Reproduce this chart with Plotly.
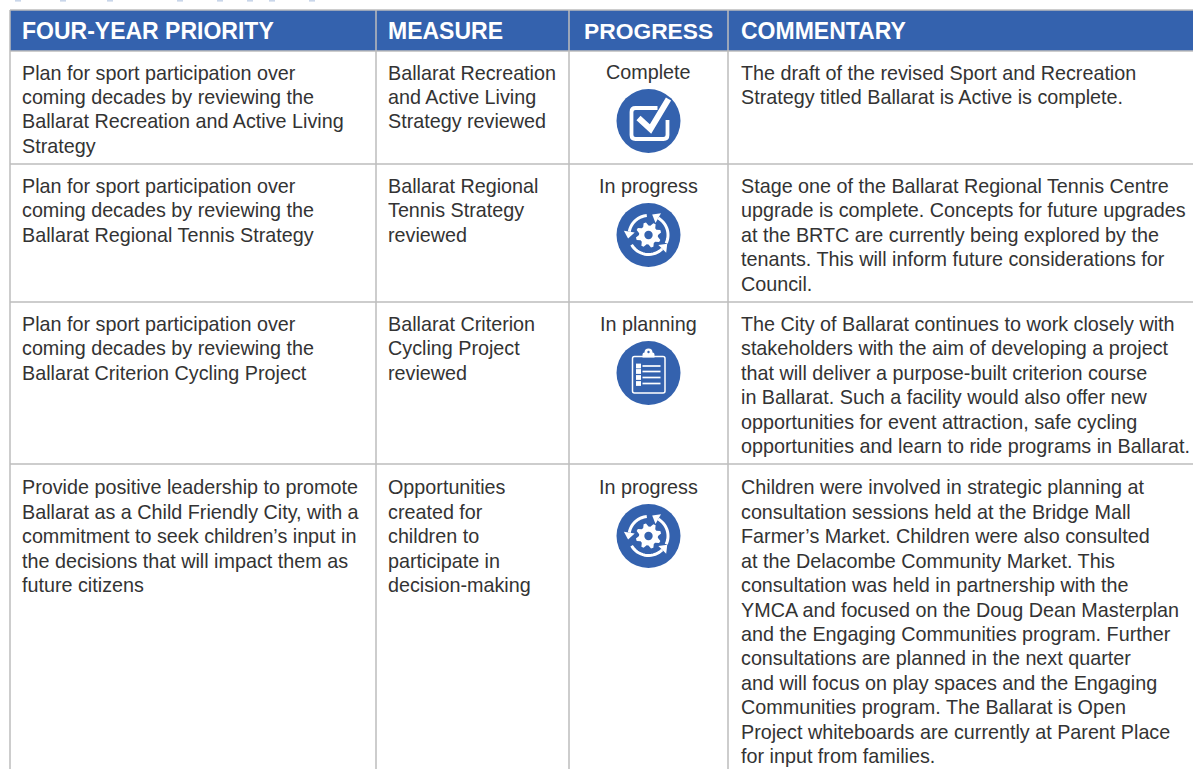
import numpy as np
import plotly.graph_objects as go

# ---------- table content ----------
HEADERS = ["FOUR-YEAR PRIORITY", "MEASURE", "PROGRESS", "COMMENTARY"]
PRIORITY = [
    ["Plan for sport participation over", "coming decades by reviewing the", "Ballarat Recreation and Active Living", "Strategy"],
    ["Plan for sport participation over", "coming decades by reviewing the", "Ballarat Regional Tennis Strategy"],
    ["Plan for sport participation over", "coming decades by reviewing the", "Ballarat Criterion Cycling Project"],
    ["Provide positive leadership to promote", "Ballarat as a Child Friendly City, with a", "commitment to seek children\u2019s input in", "the decisions that will impact them as", "future citizens"],
]
MEASURE = [
    ["Ballarat Recreation", "and Active Living", "Strategy reviewed"],
    ["Ballarat Regional", "Tennis Strategy", "reviewed"],
    ["Ballarat Criterion", "Cycling Project", "reviewed"],
    ["Opportunities", "created for", "children to", "participate in", "decision-making"],
]
PROGRESS = ["Complete", "In progress", "In planning", "In progress"]
COMMENTARY = [
    ["The draft of the revised Sport and Recreation", "Strategy titled Ballarat is Active is complete."],
    ["Stage one of the Ballarat Regional Tennis Centre", "upgrade is complete. Concepts for future upgrades", "at the BRTC are currently being explored by the", "tenants. This will inform future considerations for", "Council."],
    ["The City of Ballarat continues to work closely with", "stakeholders with the aim of developing a project", "that will deliver a purpose-built criterion course", "in Ballarat. Such a facility would also offer new", "opportunities for event attraction, safe cycling", "opportunities and learn to ride programs in Ballarat."],
    ["Children were involved in strategic planning at", "consultation sessions held at the Bridge Mall", "Farmer\u2019s Market. Children were also consulted", "at the Delacombe Community Market. This", "consultation was held in partnership with the", "YMCA and focused on the Doug Dean Masterplan", "and the Engaging Communities program. Further", "consultations are planned in the next quarter", "and will focus on play spaces and the Engaging", "Communities program. The Ballarat is Open", "Project whiteboards are currently at Parent Place", "for input from families."],
]

# ---------- layout of the page (pixel space of the axes) ----------
W, H = 1193, 769
COL_EDGES = [10, 376, 569, 728, 1193]
ROW_EDGES = [10, 51, 164, 302, 464, 775]
TEXT_X = [22, 388, None, 741]
LINE_H = 24.45
FIRST_LINE = [72.5, 186, 324, 487.3]
ICON_Y = [121, 235, 373, 536]
ICON_R = 32
BLUE = "#3462ae"
GRID = "#bdbdbd"
INK = "#333333"
FONT = "Liberation Sans"
FS = 19.75
HEAD_FS = 23
CLIPPED_HEADING_X = [18, 63, 110, 180, 220, 250, 272, 312]

shapes, ann = [], []


def add_line(x0, y0, x1, y1, color=GRID, width=1.5):
    shapes.append(dict(type="line", x0=x0, y0=y0, x1=x1, y1=y1, line=dict(color=color, width=width), layer="below"))


def text(x, y, s, anchor="left", size=FS, color=INK, bold=False):
    ann.append(dict(x=x, y=y, text=f"<b>{s}</b>" if bold else s, showarrow=False, xanchor=anchor, yanchor="middle",
                    font=dict(family=FONT, size=size, color=color), xref="x", yref="y", borderpad=0, borderwidth=0))


def path(d, fill=None, stroke=None, width=0):
    s = dict(type="path", path=d, layer="above", line=dict(width=width, color=stroke or "rgba(0,0,0,0)"))
    if fill:
        s["fillcolor"] = fill
    shapes.append(s)


def poly(xs, ys, close=True):
    d = "M" + " L".join(f"{x:.2f},{y:.2f}" for x, y in zip(xs, ys))
    return d + (" Z" if close else "")


def circle(cx, cy, r, fill=None, stroke=None, width=0):
    shapes.append(dict(type="circle", x0=cx - r, x1=cx + r, y0=cy - r, y1=cy + r, fillcolor=fill or "rgba(0,0,0,0)",
                       line=dict(width=width, color=stroke or "rgba(0,0,0,0)"), layer="above"))


def icon_complete(cx, cy):
    circle(cx, cy, ICON_R, BLUE)
    path(f"M{cx+9},{cy-13} L{cx-13},{cy-13} Q{cx-17},{cy-13} {cx-17},{cy-9} L{cx-17},{cy+14} Q{cx-17},{cy+18} {cx-13},{cy+18} "
         f"L{cx+15},{cy+18} Q{cx+19},{cy+18} {cx+19},{cy+14} L{cx+19},{cy-1}", stroke="white", width=3.8)
    path(f"M{cx-10},{cy-3} L{cx+2},{cy+8} L{cx+20},{cy-22}", stroke="white", width=6)


def icon_progress(cx, cy):
    circle(cx, cy, ICON_R, BLUE)
    n = 8
    ang = np.linspace(0, 2 * np.pi, n * 4, endpoint=False) + np.pi / 8
    rad = np.array([12.8, 12.8, 9.5, 9.5] * n)
    path(poly(cx + rad * np.cos(ang), cy + rad * np.sin(ang)), fill="white")
    circle(cx, cy, 4.2, BLUE)
    for a0, a1 in [(-95, -170), (25, -60), (150, 45)]:
        t = np.radians(np.linspace(a0, a1, 18))
        path(poly(cx + 19.5 * np.cos(t), cy + 19.5 * np.sin(t), close=False), stroke="white", width=3)
        e = np.radians(a1)
        tx, ty = np.sin(e), -np.cos(e)
        nx, ny = np.cos(e), np.sin(e)
        px, py = cx + 19.5 * nx, cy + 19.5 * ny
        path(poly([px + nx * 5.5, px - nx * 5.5, px + tx * 7], [py + ny * 5.5, py - ny * 5.5, py + ty * 7]), fill="white")


def icon_plan(cx, cy):
    circle(cx, cy, ICON_R, BLUE)
    x0, x1, y0, y1 = cx - 16, cx + 16.5, cy - 16.5, cy + 20
    path(f"M{x0+2},{y0} L{x1-2},{y0} Q{x1},{y0} {x1},{y0+2} L{x1},{y1-2} Q{x1},{y1} {x1-2},{y1} L{x0+2},{y1} Q{x0},{y1} {x0},{y1-2} L{x0},{y0+2} Q{x0},{y0} {x0+2},{y0} Z",
         stroke="white", width=1.5)
    path(f"M{cx-6},{y0+1} L{cx-6},{y0-2} Q{cx-6},{y0-4} {cx-4},{y0-4} Q{cx-4},{y0-8} {cx},{y0-8} Q{cx+4},{y0-8} {cx+4},{y0-4} Q{cx+6},{y0-4} {cx+6},{y0-2} L{cx+6},{y0+1} Z", fill="white")
    circle(cx, y0 - 4.5, 1.2, BLUE)
    for dy in (-7, -1.5, 4.5, 10.5):
        path(poly([cx - 12.5, cx - 7.5, cx - 7.5, cx - 12.5], [cy + dy - 2.4, cy + dy - 2.4, cy + dy + 2.4, cy + dy + 2.4]), fill="white")
        path(f"M{cx-6},{cy+dy} L{cx+12},{cy+dy}", stroke="white", width=1.7)


ICONS = {"Complete": icon_complete, "In progress": icon_progress, "In planning": icon_plan}

# bottoms of the page heading that is cut off by the top of the picture
for x in CLIPPED_HEADING_X:
    shapes.append(dict(type="rect", x0=x - 3, x1=x + 3, y0=-1, y1=1.6, fillcolor="#c9d6ea", line=dict(width=0), layer="below"))

# header band
shapes.append(dict(type="rect", x0=COL_EDGES[0], x1=W + 2, y0=ROW_EDGES[0], y1=ROW_EDGES[1], fillcolor=BLUE, line=dict(width=0), layer="below"))

# grid
for x in COL_EDGES[:-1]:
    add_line(x, ROW_EDGES[0], x, H + 2)
for y in ROW_EDGES[:-1]:
    add_line(COL_EDGES[0], y, W + 2, y)

# headers
for i, h in enumerate(HEADERS):
    if i == 2:
        text((COL_EDGES[2] + COL_EDGES[3]) / 2, 30.5, h, "center", HEAD_FS - 0.2, "white", True)
    else:
        text(TEXT_X[i], 30.5, h, "left", HEAD_FS, "white", True)

# body
for r in range(4):
    for col, lines in ((0, PRIORITY[r]), (1, MEASURE[r]), (3, COMMENTARY[r])):
        for k, line in enumerate(lines):
            text(TEXT_X[col], FIRST_LINE[r] + k * LINE_H, line)
    cx = (COL_EDGES[2] + COL_EDGES[3]) / 2
    text(cx, FIRST_LINE[r] - 0.5, PROGRESS[r], "center")
    ICONS[PROGRESS[r]](cx, ICON_Y[r])

fig = go.Figure()
fig.update_layout(
    width=W, height=H, margin=dict(l=0, r=0, t=0, b=0), paper_bgcolor="white", plot_bgcolor="white",
    xaxis=dict(range=[0, W], visible=False, fixedrange=True),
    yaxis=dict(range=[H, 0], visible=False, fixedrange=True),
    shapes=shapes, annotations=ann, showlegend=False,
)
fig.write_html("out.html", config=dict(displayModeBar=False),
               post_script="document.body.style.margin='0';document.documentElement.style.overflow='hidden';")
